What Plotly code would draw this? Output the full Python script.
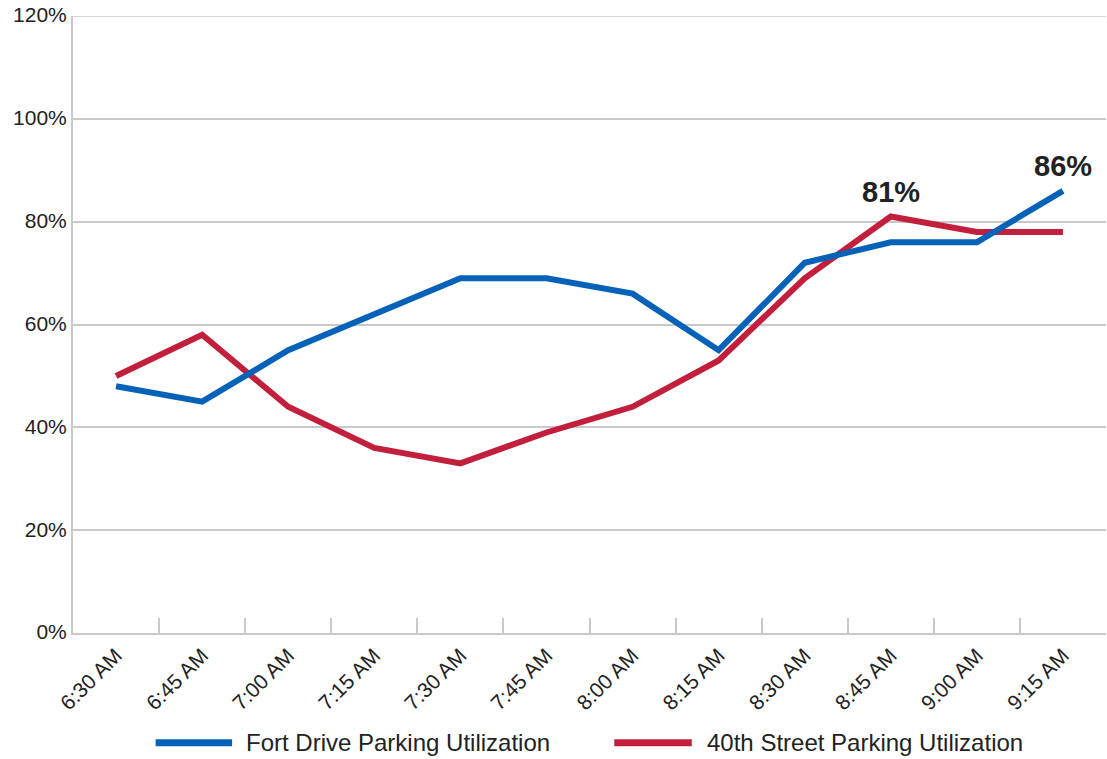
import plotly.graph_objects as go

times = ["6:30 AM", "6:45 AM", "7:00 AM", "7:15 AM", "7:30 AM", "7:45 AM",
         "8:00 AM", "8:15 AM", "8:30 AM", "8:45 AM", "9:00 AM", "9:15 AM"]
fort_drive = [48, 45, 55, 62, 69, 69, 66, 55, 72, 76, 76, 86]
fortieth_street = [50, 58, 44, 36, 33, 39, 44, 53, 69, 81, 78, 78]
series_names = ["Fort Drive Parking Utilization", "40th Street Parking Utilization"]
y_ticks = [0, 20, 40, 60, 80, 100, 120]

BLUE = "#0562b8"
RED = "#c21f3c"
GRID = "#c9c9cc"
TXT = "#222222"
FONT = "Liberation Sans, Arial, Helvetica, sans-serif"

fig = go.Figure()
fig.add_trace(go.Scatter(x=times, y=fortieth_street, mode="lines", name=series_names[1],
                         line=dict(color=RED, width=6), showlegend=False))
fig.add_trace(go.Scatter(x=times, y=fort_drive, mode="lines", name=series_names[0],
                         line=dict(color=BLUE, width=6), showlegend=False))

# Highlight labels
fig.add_annotation(x=times[9], y=fortieth_street[9], text=f"<b>{fortieth_street[9]}%</b>",
                   showarrow=False, yshift=25, font=dict(size=29, color=TXT, family=FONT))
fig.add_annotation(x=times[11], y=fort_drive[11], text=f"<b>{fort_drive[11]}%</b>",
                   showarrow=False, yshift=25, font=dict(size=29, color=TXT, family=FONT))

# Custom legend (long line symbols)
legend_y = -0.178
for (x0, x1, tx, color, name) in [(0.080, 0.154, 0.166, BLUE, series_names[0]),
                                   (0.524, 0.599, 0.612, RED, series_names[1])]:
    fig.add_shape(type="line", xref="paper", yref="paper", x0=x0, x1=x1, y0=legend_y, y1=legend_y,
                  line=dict(color=color, width=7))
    fig.add_annotation(xref="paper", yref="paper", x=tx, y=legend_y, xanchor="left", yanchor="middle",
                       text=name, showarrow=False, font=dict(size=24, color=TXT, family=FONT))

# top border gridline at the axis maximum
fig.add_shape(type="line", xref="paper", yref="y", x0=0, x1=1, y0=y_ticks[-1], y1=y_ticks[-1],
              line=dict(color=GRID, width=1.5), layer="below")

fig.update_layout(
    width=1107, height=759,
    margin=dict(l=73, r=1, t=16, b=126),
    plot_bgcolor="white", paper_bgcolor="white",
    font=dict(family=FONT, color=TXT, size=21),
    showlegend=False,
)
fig.update_xaxes(
    type="category", range=[-0.5, 11.5], automargin=False,
    showline=True, linecolor=GRID, linewidth=2,
    ticks="inside", tickson="boundaries", ticklen=15, tickwidth=2, tickcolor=GRID,
    tickangle=-45, tickfont=dict(size=21, color=TXT),
    showgrid=False, zeroline=False,
)
fig.update_yaxes(
    range=[0, 120], tickvals=y_ticks, ticktext=[f"{v}%" for v in y_ticks], automargin=False,
    ticklabeloverflow="allow", ticklabelshift=-1,
    showline=True, linecolor=GRID, linewidth=2,
    showgrid=True, gridcolor=GRID, gridwidth=1.5,
    zeroline=False, ticks="", tickfont=dict(size=21, color=TXT),
)

# remove the browser's default 8px body margin so the figure sits at the page origin
fig.write_html("out.html", config={"displayModeBar": False},
               post_script="document.body.style.margin='0';document.body.style.overflow='hidden';")
